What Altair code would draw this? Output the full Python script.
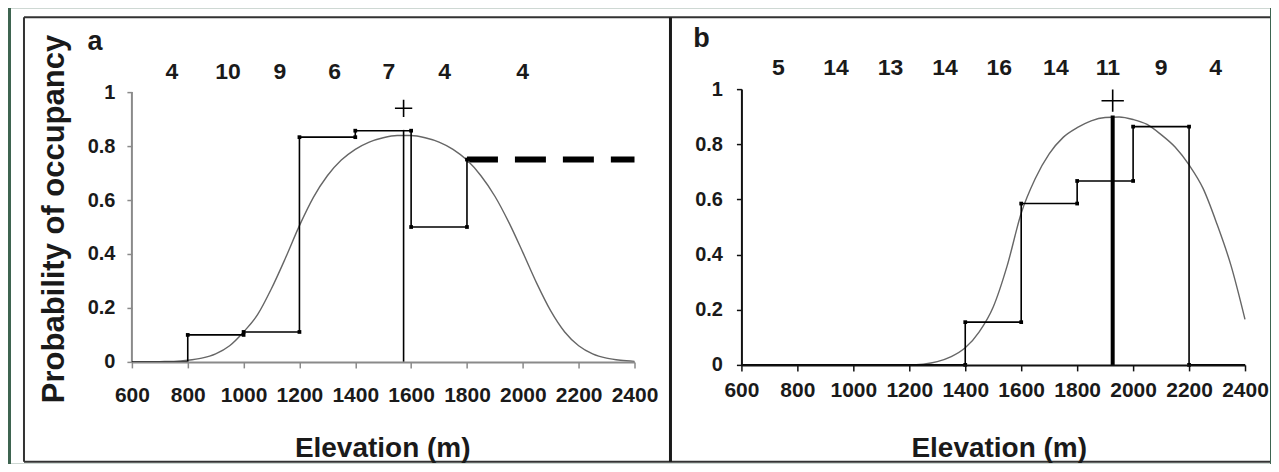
import altair as alt
import pandas as pd

# ---------------- data: panel a ----------------
a_edges = [600, 800, 1000, 1200, 1400, 1600, 1800]
a_props = [0.0, 0.1, 0.111, 0.833, 0.857, 0.5]
a_tail = [1800, 2400, 0.75]           # dashed: start, end, value
a_counts = ["4", "10", "9", "6", "7", "4", "4"]
a_count_pos = [743, 944, 1130, 1326, 1520, 1720, 1999]
a_optimum = [1573, 0.86, 0.94]        # elevation, line top, "+" height
a_curve_x = list(range(600, 2401, 50))
a_curve_y = [0.000, 0.000, 0.001, 0.002, 0.006, 0.014, 0.030, 0.060, 0.111,
             0.175, 0.272, 0.385, 0.505, 0.610, 0.690, 0.748, 0.788, 0.815,
             0.831, 0.839, 0.839, 0.831, 0.815, 0.788, 0.748, 0.690, 0.614,
             0.517, 0.406, 0.291, 0.189, 0.111, 0.060, 0.030, 0.014, 0.006,
             0.002]

# ---------------- data: panel b ----------------
b_edges = [600, 800, 1000, 1200, 1400, 1600, 1800, 2000, 2200, 2400]
b_props = [0.0, 0.0, 0.0, 0.0, 0.155, 0.585, 0.667, 0.864, 0.0]
b_counts = ["5", "14", "13", "14", "16", "14", "11", "9", "4"]
b_count_pos = [732, 938, 1133, 1328, 1522, 1724, 1910, 2100, 2295]
b_optimum = [1927, 0.904, 0.958]
b_curve_x = list(range(600, 2401, 50))
b_curve_y = [0.0, 0.0, 0.0, 0.0, 0.0, 0.0, 0.0, 0.0, 0.0, 0.0, 0.0, 0.0,
             0.0, 0.003, 0.012, 0.030, 0.062, 0.120, 0.210, 0.360, 0.550,
             0.675, 0.765, 0.825, 0.860, 0.885, 0.897, 0.899, 0.890, 0.872,
             0.835, 0.790, 0.725, 0.640, 0.510, 0.360, 0.165]

TICKS = [600, 800, 1000, 1200, 1400, 1600, 1800, 2000, 2200, 2400]
YTICKS = [0, 0.2, 0.4, 0.6, 0.8, 1]

FONT = "Liberation Sans"
GREEN = "#3e6450"
GREY_AX = "#8a8a8a"
W_A, W_B, H = 503, 504, 276

one = pd.DataFrame({"k": [0]})


def step_frame(edges, vals):
    xs, ys = [], []
    for i, v in enumerate(vals):
        xs += [edges[i], edges[i + 1]]
        ys += [v, v]
    return xs, ys


def corner_frame(edges, vals):
    xs, ys = [], []
    for i, v in enumerate(vals):
        if v > 0:
            xs += [edges[i], edges[i + 1]]
            ys += [v, v]
    return pd.DataFrame({"elev": xs, "p": ys})


def make_panel(letter, width, ydomain, axis_color, show_ydomain, x_offset,
               x_pad, y_pad, curve_x, curve_y, step_x, step_y, corners,
               counts, count_pos, count_y, optimum, opt_width, plus_size,
               letter_pos, xtitle_x, ytitle, extra_layers, pre_layers):
    xs = alt.Scale(domain=[600, 2400], nice=False, zero=False)
    ys = alt.Scale(domain=ydomain, nice=False, zero=False)
    xax = alt.Axis(values=TICKS, format="d", title=None, grid=False,
                   labelFont=FONT, labelFontSize=21, labelFontWeight="bold",
                   labelColor="#1a1a1a", labelFlush=False, labelOverlap=False,
                   tickSize=6, tickColor=axis_color, tickWidth=1.5,
                   domainColor=axis_color, domainWidth=2,
                   labelPadding=x_pad, offset=x_offset, zindex=2)
    yax = alt.Axis(values=YTICKS, format="~g", title=None, grid=False,
                   labelFont=FONT, labelFontSize=20, labelFontWeight="bold",
                   labelColor="#1a1a1a", labelOverlap=False,
                   tickSize=5, tickColor=axis_color, tickWidth=1.5,
                   domain=show_ydomain,
                   domainColor=axis_color, domainWidth=2,
                   labelPadding=y_pad, zindex=2)
    X = alt.X("elev:Q", scale=xs, axis=xax)
    Y = alt.Y("p:Q", scale=ys, axis=yax)

    layers = list(pre_layers)
    for lay in extra_layers:
        layers.append(lay(X, Y))

    curve = alt.Chart(pd.DataFrame({"elev": curve_x, "p": curve_y})).mark_line(
        color="#666666", strokeWidth=1.4, interpolate="monotone"
    ).encode(x=X, y=Y)
    layers.append(curve)

    step = alt.Chart(pd.DataFrame({"elev": step_x, "p": step_y,
                                   "o": list(range(len(step_x)))})).mark_line(
        color="black", strokeWidth=1.6
    ).encode(x=X, y=Y, order="o:Q")
    layers.append(step)

    opt = alt.Chart(pd.DataFrame({"elev": [optimum[0]], "p": [0.0],
                                  "p2": [optimum[1]]})).mark_rule(
        color="black", strokeWidth=opt_width
    ).encode(x=X, y=Y, y2="p2:Q")
    layers.append(opt)

    dots = alt.Chart(corners).mark_square(size=14, color="black", opacity=1).encode(x=X, y=Y)
    layers.append(dots)

    plus = alt.Chart(pd.DataFrame({"elev": [optimum[0]], "p": [optimum[2]]})).mark_point(
        shape="M-1,0L1,0M0,-1L0,1", filled=False, size=plus_size,
        color="black", strokeWidth=1.6, opacity=1
    ).encode(x=X, y=Y)
    layers.append(plus)

    cnt = alt.Chart(pd.DataFrame({"elev": count_pos, "t": counts})).mark_text(
        font=FONT, fontSize=23, fontWeight="bold", color="#1a1a1a",
        baseline="middle", align="center"
    ).encode(x=X, y=alt.value(count_y), text="t:N")
    layers.append(cnt)

    let = alt.Chart(one).mark_text(
        text=letter, font=FONT, fontSize=27, fontWeight="bold", color="#1a1a1a",
        baseline="middle", align="center"
    ).encode(x=alt.value(letter_pos[0]), y=alt.value(letter_pos[1]))
    layers.append(let)

    xt = alt.Chart(one).mark_text(
        text="Elevation (m)", font=FONT, fontSize=28, fontWeight="bold",
        color="#1a1a1a", baseline="middle", align="center"
    ).encode(x=alt.value(xtitle_x), y=alt.value(360))
    layers.append(xt)

    if ytitle:
        yt = alt.Chart(one).mark_text(
            text="Probability of occupancy", font=FONT, fontSize=31,
            fontWeight="bold", color="#1a1a1a", baseline="middle",
            align="center", angle=270
        ).encode(x=alt.value(-77), y=alt.value(130))
        layers.append(yt)

    return alt.layer(*layers).properties(width=width, height=H)


bg = alt.Chart(one).mark_rect(fill="white", strokeWidth=0).encode(
    x=alt.value(-121), x2=alt.value(1139), y=alt.value(-81), y2=alt.value(375))
top_b = alt.Chart(one).mark_rule(color="#333333", strokeWidth=2).encode(
    x=alt.value(-108), x2=alt.value(1139), y=alt.value(-72))
left_b = alt.Chart(one).mark_rule(color="#333333", strokeWidth=2).encode(
    x=alt.value(-108), y=alt.value(-72), y2=alt.value(373))
bot_b = alt.Chart(one).mark_rule(color="#333333", strokeWidth=2).encode(
    x=alt.value(-108), x2=alt.value(1139), y=alt.value(373))
div_b = alt.Chart(one).mark_rule(color="#1a1a1a", strokeWidth=3).encode(
    x=alt.value(539), y=alt.value(-72), y2=alt.value(373))

a_step_x, a_step_y = step_frame(a_edges, a_props)
a_step_x.append(a_tail[0])
a_step_y.append(a_tail[2])
a_corners = corner_frame(a_edges, a_props)
a_corners = pd.concat([a_corners, pd.DataFrame({"elev": [a_tail[0]], "p": [a_tail[2]]})])


def yline_a(X, Y):
    return alt.Chart(pd.DataFrame({"elev": [600], "p": [0.0], "p2": [1.0]})).mark_rule(
        color=GREY_AX, strokeWidth=2
    ).encode(x=X, y=Y, y2="p2:Q")


def dash_a(X, Y):
    return alt.Chart(pd.DataFrame({"elev": [a_tail[0]], "elev2": [a_tail[1]],
                                   "p": [a_tail[2]]})).mark_rule(
        color="black", strokeWidth=6, strokeDash=[31, 17]
    ).encode(x=X, x2="elev2:Q", y=Y)


panel_a = make_panel(
    "a", W_A, [-0.0111, 1.0111], GREY_AX, False, -3, 17, 12,
    a_curve_x, a_curve_y, a_step_x, a_step_y, a_corners,
    a_counts, a_count_pos, -17.5, a_optimum, 1.6, 300, (-37, -47), 251, True,
    [yline_a, dash_a], [bg, top_b, left_b, bot_b, div_b])

b_step_x, b_step_y = step_frame(b_edges, b_props)
b_corners = corner_frame(b_edges, b_props)
b_corners = pd.concat([b_corners, pd.DataFrame({"elev": [1400, 2200], "p": [0.0, 0.0]})])

panel_b = make_panel(
    "b", W_B, [0, 1], "#111111", True, 0, 9, 14,
    b_curve_x, b_curve_y, b_step_x, b_step_y, b_corners,
    b_counts, b_count_pos, -21, b_optimum, 4, 500, (-40, -50), 258, False,
    [], [])

chart = alt.hconcat(panel_a, panel_b, spacing=107, bounds="flush").properties(
    background=GREEN,
    padding={"left": 3, "top": 0, "right": 0, "bottom": 0},
).configure_view(stroke=None)

chart.save("out.html", embed_options={"renderer": "svg", "actions": False})
